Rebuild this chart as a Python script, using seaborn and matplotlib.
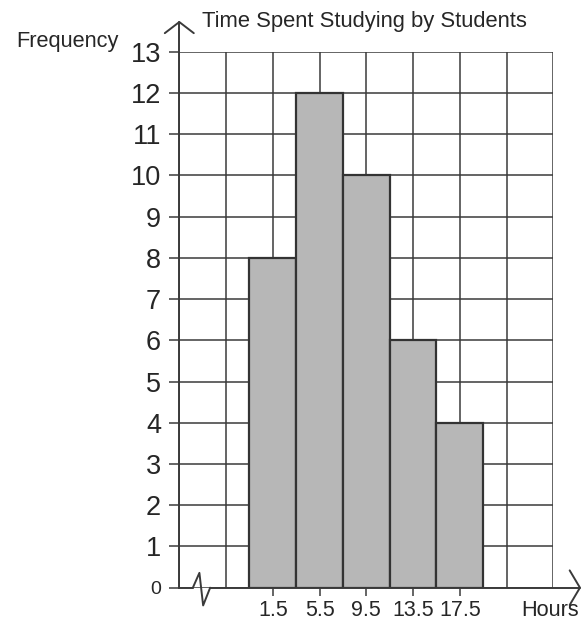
import pandas as pd
import matplotlib
matplotlib.use('Agg')
import matplotlib.pyplot as plt
import seaborn as sns

# data
hours = ['1.5', '5.5', '9.5', '13.5', '17.5']
frequency = [8, 12, 10, 6, 4]
y_ticks = list(range(0, 14))

df = pd.DataFrame({'hours': hours, 'frequency': frequency})

sns.set_style('white')
plt.rcParams['font.family'] = ['Liberation Sans', 'DejaVu Sans']

fig = plt.figure(figsize=(5.82, 6.22), dpi=100)
ax = fig.add_axes([179.3 / 582, 34.3 / 622, 374 / 582, 536 / 622])

line_col = '#3a3a3a'
text_col = '#262626'

# grid (behind the bars)
for gx in range(-2, 7):
    ax.plot([gx, gx], [0, 13], color=line_col, lw=1.1, zorder=0)
for gy in y_ticks:
    ax.plot([-2, 6], [gy, gy], color=line_col, lw=1.1, zorder=0)

sns.barplot(data=df, x='hours', y='frequency', color='#b7b7b7', saturation=1,
            width=1, edgecolor='#333333', linewidth=1.6, ax=ax, zorder=2)

ax.set_xlim(-2, 6)
ax.set_ylim(0, 13)
for s in ax.spines.values():
    s.set_visible(False)

ax.set_yticks(y_ticks)
ax.set_yticklabels([str(v) for v in y_ticks], fontsize=19.5, color=text_col)
ax.get_yticklabels()[0].set_fontsize(14)
ax.tick_params(axis='y', length=7, width=1.1, color=line_col, pad=6, left=True)
ax.set_xticks(range(len(hours)))
ax.set_xticklabels(hours, fontsize=15.5, color=text_col)
ax.tick_params(axis='x', length=6, width=1.1, color=line_col, pad=3, bottom=True)
ax.set_xlabel('')
ax.set_ylabel('')

# axes with arrows and break mark
ax.plot([-2, -2], [0, 13.72], color=line_col, lw=1.4, clip_on=False, zorder=3)
ax.plot([-2.31, -2, -1.69], [13.45, 13.72, 13.45], color=line_col, lw=1.4,
        clip_on=False, zorder=3)
ax.plot([-2, -1.71], [0, 0], color=line_col, lw=1.4, clip_on=False, zorder=3)
ax.plot([-1.71, -1.57, -1.49, -1.34], [0, 0.36, -0.43, 0], color=line_col,
        lw=1.4, clip_on=False, zorder=3)
ax.plot([-1.34, 6.57], [0, 0], color=line_col, lw=1.4, clip_on=False, zorder=3)
ax.plot([6.35, 6.57, 6.35], [0.42, 0, -0.42], color=line_col, lw=1.4,
        clip_on=False, zorder=3)

fig.text(202 / 582, 1 - 22 / 622, 'Time Spent Studying by Students',
         fontsize=15.8, color=text_col, ha='left', va='center')
fig.text(16 / 582, 1 - 42 / 622, 'Frequency', fontsize=15.7, color=text_col,
         ha='left', va='center')
fig.text(521 / 582, 1 - 611 / 622, 'Hours', fontsize=15.7, color=text_col,
         ha='left', va='center')

fig.savefig('out.png', dpi=100)
